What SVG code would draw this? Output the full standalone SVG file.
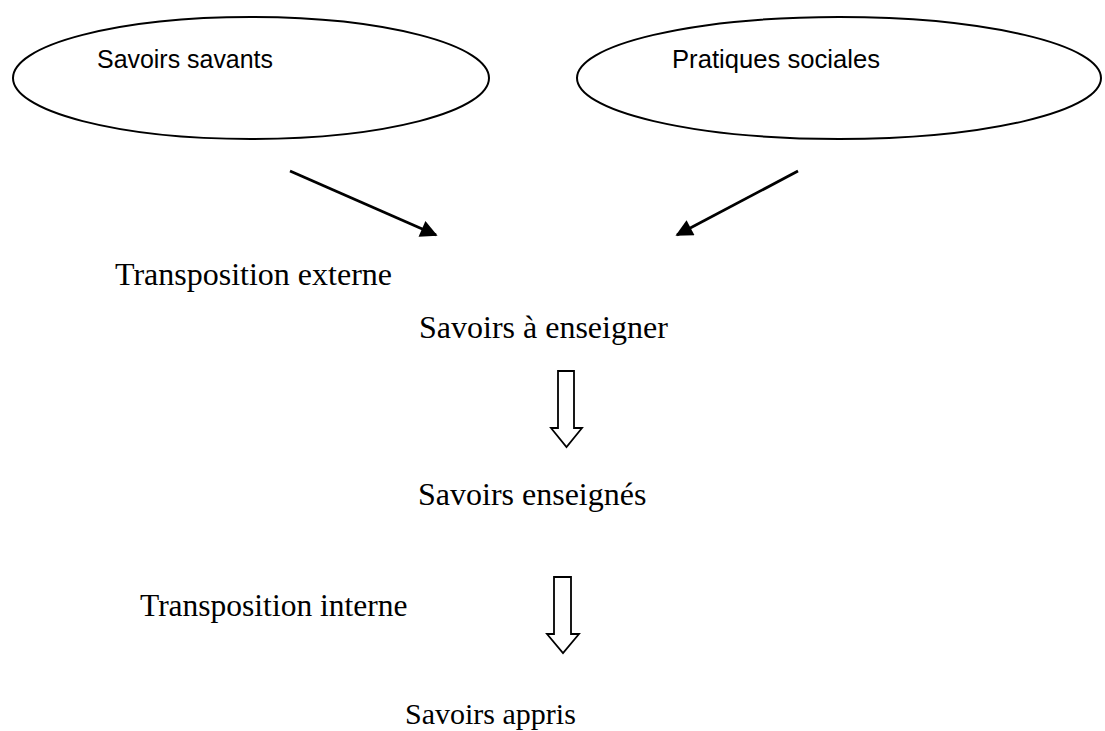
<svg xmlns="http://www.w3.org/2000/svg" width="1105" height="731" viewBox="0 0 1105 731">
  <style>
    .bubble { fill: #ffffff; stroke: #000000; stroke-width: 2; }
    .sans { font-family: "Liberation Sans", Arial, sans-serif; font-size: 26px; fill: #000000; }
    .serif { font-family: "Liberation Serif", "Times New Roman", serif; font-size: 32px; fill: #000000; }
    .link { stroke: #000000; stroke-width: 2.8; fill: none; }
    .block-arrow { fill: #ffffff; stroke: #000000; stroke-width: 1.8; stroke-linejoin: miter; }
  </style>
  <defs>
    <!-- solid triangular head for the two converging connectors -->
    <marker id="head" viewBox="0 0 10 10" refX="9" refY="5" markerUnits="userSpaceOnUse" markerWidth="18" markerHeight="17" orient="auto">
      <path d="M0,0 L10,5 L0,10 Z" fill="#000000"/>
    </marker>
  </defs>
  <rect width="1105" height="731" fill="#ffffff"/>

  <g id="savoirs-savants">
    <ellipse class="bubble" cx="251" cy="78" rx="238" ry="61"/>
    <text class="sans" x="97" y="68" textLength="176" lengthAdjust="spacingAndGlyphs">Savoirs savants</text>
  </g>

  <g id="pratiques-sociales">
    <ellipse class="bubble" cx="839" cy="78" rx="262" ry="61"/>
    <text class="sans" x="672" y="68" textLength="208" lengthAdjust="spacingAndGlyphs">Pratiques sociales</text>
  </g>

  <g id="transposition-externe">
    <text class="serif" x="115" y="285">Transposition externe</text>
  </g>

  <g id="savoirs-a-enseigner">
    <text class="serif" x="419" y="338">Savoirs à enseigner</text>
  </g>

  <g id="savoirs-enseignes">
    <text class="serif" x="418" y="505">Savoirs enseignés</text>
  </g>

  <g id="transposition-interne">
    <text class="serif" x="140" y="616" style="font-size:31.5px">Transposition interne</text>
  </g>

  <g id="savoirs-appris">
    <text class="serif" x="405" y="724" style="font-size:30px">Savoirs appris</text>
  </g>

  <g id="connectors">
    <line class="link" x1="290" y1="171" x2="436" y2="235" marker-end="url(#head)"/>
    <line class="link" x1="798" y1="171" x2="677" y2="235" marker-end="url(#head)"/>
    <path class="block-arrow" d="M558,371 H574 V428 H582 L566.5,447 L551,428 H558 Z"/>
    <path class="block-arrow" d="M554,577 H571 V634 H579 L563,653 L547,634 H554 Z"/>
  </g>
</svg>
